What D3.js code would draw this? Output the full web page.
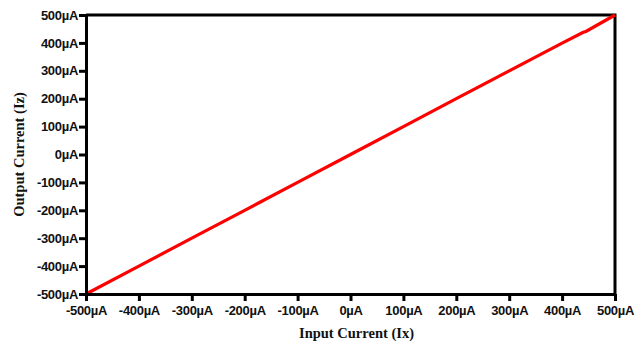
<!DOCTYPE html>
<html>
<head>
  <meta charset="utf-8">
  <script src="https://d3js.org/d3.v7.min.js"></script>
  <style>
    body { margin: 0; background: #fff; }
    .tick text { font-family: "Liberation Sans", Arial, sans-serif; font-weight: bold; font-size: 13px; letter-spacing: -0.3px; fill: #111; }
    .axis path, .axis line { stroke: #000; stroke-width: 3px; }
    .title { font-family: "Liberation Serif", "Times New Roman", serif; font-weight: bold; font-size: 14.5px; fill: #111; }
  </style>
</head>
<body>
<script>
  // input current (uA) and measured output current (uA)
  var inputCurrent  = [-500, -400, -300, -200, -100, 0, 100, 200, 300, 400, 440, 445, 500];
  var outputCurrent = [-500, -400, -300, -200, -100, 0, 100, 200, 300, 399, 438, 441, 500];
  var tickValues = [-500, -400, -300, -200, -100, 0, 100, 200, 300, 400, 500];

  var w = 643, h = 347;
  var margin = {top: 15, right: 28, bottom: 53, left: 86};
  var innerW = w - margin.left - margin.right,
    innerH = h - margin.top - margin.bottom;

  var x = d3.scaleLinear().domain([-500, 500]).range([0, innerW]);
  var y = d3.scaleLinear().domain([-500, 500]).range([innerH, 0]);
  var fmt = function(d) { return d + 'µA'; };

  var svg = d3.select('body').append('svg')
      .attr('width', w)
      .attr('height', h);
  var g = svg.append('g')
      .attr('transform', 'translate(' + [margin.left, margin.top] + ')');

  // frame (top and right)
  g.append('path')
    .attr('d', 'M0,0H' + innerW + 'V' + innerH)
    .attr('fill', 'none')
    .attr('stroke', '#000')
    .attr('stroke-width', 3);

  var line = d3.line()
    .x(function(d, i) { return x(inputCurrent[i]); })
    .y(function(d, i) { return y(outputCurrent[i]); });

  g.append('path')
    .datum(inputCurrent)
    .attr('d', line)
    .attr('fill', 'none')
    .attr('stroke', '#ff0000')
    .attr('stroke-width', 3.2);

  g.append('g')
    .attr('class', 'x axis')
    .attr('transform', 'translate(0,' + innerH + ')')
    .call(d3.axisBottom(x).tickValues(tickValues).tickFormat(fmt).tickSize(7).tickSizeOuter(0).tickPadding(3));

  g.append('g')
    .attr('class', 'y axis')
    .call(d3.axisLeft(y).tickValues(tickValues).tickFormat(fmt).tickSize(7).tickSizeOuter(0).tickPadding(1));

  g.selectAll('.x.axis .tick text').attr('dy', '0.85em');

  svg.append('text')
    .attr('class', 'title')
    .attr('text-anchor', 'middle')
    .attr('x', margin.left + innerW / 2 + 6)
    .attr('y', 338)
    .text('Input Current (Ix)');

  svg.append('text')
    .attr('class', 'title')
    .attr('text-anchor', 'middle')
    .attr('transform', 'translate(24,' + (margin.top + innerH / 2) + ') rotate(-90)')
    .text('Output Current (Iz)');
</script>
</body>
</html>
